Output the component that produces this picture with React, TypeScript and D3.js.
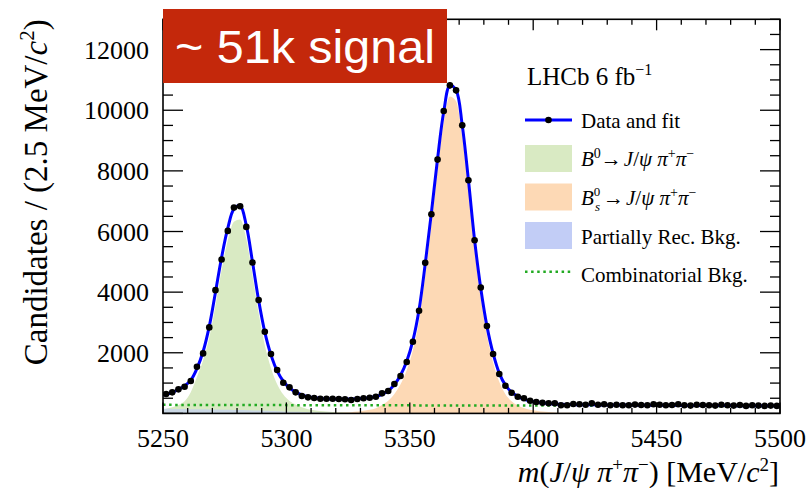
import React from "react";
import * as d3 from "d3";

// ---------- data ----------
const massRange = [5250, 5500];
const binWidth = 2.5;
const countMax = 13000;

// data points, one per 2.5 MeV bin (100 bins)
const dataCounts = [
  639, 695, 794, 880, 1068, 1539, 1980, 2837, 4066, 5078,
  6020, 6791, 6834, 6152, 4979, 3737, 2692, 1957, 1430, 1012,
  860, 695, 573, 530, 507, 484, 484, 484, 474, 465,
  442, 474, 498, 517, 550, 662, 738, 969, 1232, 1694,
  2362, 3384, 4966, 6570, 8372, 9974, 10821, 10656, 9503, 7691,
  5714, 4155, 2880, 1957, 1298, 913, 682, 550, 498, 418,
  375, 353, 333, 333, 267, 267, 310, 300, 287, 333,
  287, 300, 267, 287, 267, 267, 290, 277, 267, 300,
  287, 267, 277, 300, 267, 257, 287, 277, 267, 257,
  287, 267, 257, 277, 247, 267, 257, 247, 257, 247,
];

// total fit at bin centres, plus values at the two range edges
const fitCounts = [
  630, 690, 790, 905, 1095, 1480, 2040, 2870, 3990, 5150,
  6110, 6740, 6850, 6200, 5000, 3730, 2680, 1930, 1400, 1060,
  840, 700, 610, 550, 515, 495, 480, 472, 468, 468,
  472, 482, 498, 520, 560, 630, 745, 950, 1260, 1720,
  2400, 3420, 4930, 6620, 8400, 9950, 10820, 10660, 9500, 7700,
  5720, 4130, 2880, 1980, 1330, 930, 700, 560, 470, 410,
  370, 345, 325, 312, 302, 296, 291, 288, 285, 283,
  281, 279, 277, 276, 275, 274, 272, 271, 270, 269,
  268, 267, 266, 265, 264, 263, 262, 261, 260, 259,
  258, 257, 256, 255, 254, 253, 252, 251, 250, 249,
];
const fitEdges = [600, 248];

// B0 -> J/psi pi pi component
const b0Counts = [
  150, 200, 280, 400, 700, 1200, 1750, 2500, 3560, 4740,
  5700, 6320, 6400, 5760, 4560, 3300, 2250, 1500, 960, 620,
  410, 290, 200, 140, 105, 80, 60, 45, 35, 28,
  22, 17, 13, 10, 7, 5, 3, 2, 0, 0,
  0, 0, 0, 0, 0, 0, 0, 0, 0, 0,
  0, 0, 0, 0, 0, 0, 0, 0, 0, 0,
  0, 0, 0, 0, 0, 0, 0, 0, 0, 0,
  0, 0, 0, 0, 0, 0, 0, 0, 0, 0,
  0, 0, 0, 0, 0, 0, 0, 0, 0, 0,
  0, 0, 0, 0, 0, 0, 0, 0, 0, 0,
];
const b0Edges = [120, 0];

// Bs -> J/psi pi pi component
const bsCounts = [
  0, 0, 0, 0, 0, 0, 0, 0, 0, 0,
  0, 0, 0, 0, 0, 0, 0, 0, 0, 0,
  0, 0, 2, 4, 6, 9, 12, 16, 20, 28,
  40, 60, 85, 120, 170, 280, 420, 640, 960, 1420,
  2080, 3060, 4540, 6220, 8020, 9600, 10450, 10300, 9150, 7360,
  5400, 3820, 2580, 1680, 1040, 630, 400, 260, 175, 120,
  85, 60, 45, 33, 25, 18, 13, 9, 6, 4,
  2, 0, 0, 0, 0, 0, 0, 0, 0, 0,
  0, 0, 0, 0, 0, 0, 0, 0, 0, 0,
  0, 0, 0, 0, 0, 0, 0, 0, 0, 0,
];
const bsEdges = [0, 0];

// partially reconstructed background
const partialCounts = [
  150, 148, 146, 144, 141, 138, 135, 131, 127, 123,
  119, 114, 109, 104, 98, 92, 86, 79, 72, 65,
  58, 51, 44, 37, 31, 25, 20, 15, 11, 8,
  5, 3, 2, 1, 0, 0, 0, 0, 0, 0,
  0, 0, 0, 0, 0, 0, 0, 0, 0, 0,
  0, 0, 0, 0, 0, 0, 0, 0, 0, 0,
  0, 0, 0, 0, 0, 0, 0, 0, 0, 0,
  0, 0, 0, 0, 0, 0, 0, 0, 0, 0,
  0, 0, 0, 0, 0, 0, 0, 0, 0, 0,
  0, 0, 0, 0, 0, 0, 0, 0, 0, 0,
];
const partialEdges = [151, 0];

// combinatorial background
const combMass = [5250, 5300, 5350, 5400, 5450, 5500];
const combCounts = [282, 273, 265, 258, 251, 245];

const xMajorTicks = [5250, 5300, 5350, 5400, 5450, 5500];
const yMajorTicks = [2000, 4000, 6000, 8000, 10000, 12000];
const xMinorStep = 10;
const yMinorStep = 500;

// ---------- layout ----------
const W = 809;
const H = 488;
const PL = 163;
const PR = 780;
const PT = 19.3;
const PB = 413.4;

const SERIF = "'Liberation Serif', 'Times New Roman', Times, serif";
const SANS = "'Liberation Sans', Arial, Helvetica, sans-serif";

const C_GREEN = "#d9eac3";
const C_ORANGE = "#fdd9b5";
const C_BLUE = "#c2cdf6";
const C_COMB = "#22aa22";
const C_FIT = "#0000ff";

export default function App() {
  const x = d3.scaleLinear().domain(massRange).range([PL, PR]);
  const y = d3.scaleLinear().domain([0, countMax]).range([PB, PT]);
  const centers = dataCounts.map((_, i) => massRange[0] + binWidth * (i + 0.5));

  const withEdges = (vals: number[], edges: number[]): [number, number][] => [
    [massRange[0], edges[0]],
    ...vals.map((v, i) => [centers[i], v] as [number, number]),
    [massRange[1], edges[1]],
  ];

  const fitLine = d3
    .line<[number, number]>()
    .x((d) => x(d[0]))
    .y((d) => y(d[1]))
    .curve(d3.curveCatmullRom.alpha(0.5));

  const compArea = d3
    .area<[number, number]>()
    .x((d) => x(d[0]))
    .y0(y(0))
    .y1((d) => y(d[1]))
    .curve(d3.curveMonotoneX);

  const combLine = d3
    .line<number>()
    .x((_, i) => x(combMass[i]))
    .y((d) => y(d))
    .curve(d3.curveMonotoneX);

  const xMinor = d3.range(massRange[0], massRange[1] + 0.001, xMinorStep);
  const yMinor = d3.range(0, countMax + 0.001, yMinorStep);

  return (
    <svg
      width={W}
      height={H}
      style={{ position: "absolute", left: 0, top: 0, background: "#fff" }}
    >
      <defs>
        <clipPath id="plotclip">
          <rect x={PL} y={PT} width={PR - PL} height={PB - PT} />
        </clipPath>
      </defs>

      <g clipPath="url(#plotclip)">
        <path d={compArea(withEdges(b0Counts, b0Edges)) || ""} fill={C_GREEN} />
        <path d={compArea(withEdges(bsCounts, bsEdges)) || ""} fill={C_ORANGE} />
        <path
          d={compArea(withEdges(partialCounts, partialEdges)) || ""}
          fill={C_BLUE}
          fillOpacity={0.65}
        />
        <path
          d={combLine(combCounts) || ""}
          fill="none"
          stroke={C_COMB}
          strokeWidth={2.5}
          strokeDasharray="2.5 3.6"
        />
        <path
          d={fitLine(withEdges(fitCounts, fitEdges)) || ""}
          fill="none"
          stroke={C_FIT}
          strokeWidth={3}
        />
        {dataCounts.map((v, i) => {
          const e = Math.sqrt(v);
          return (
            <g key={i}>
              <line
                x1={x(centers[i])}
                x2={x(centers[i])}
                y1={y(v - e)}
                y2={y(v + e)}
                stroke="#000"
                strokeWidth={1.5}
              />
              <circle cx={x(centers[i])} cy={y(v)} r={3.3} fill="#000" />
            </g>
          );
        })}
      </g>

      {/* frame */}
      <rect
        x={PL}
        y={PT}
        width={PR - PL}
        height={PB - PT}
        fill="none"
        stroke="#000"
        strokeWidth={1.6}
      />

      {/* x ticks (bottom and top) */}
      {xMinor.map((m) => {
        const major = xMajorTicks.includes(Math.round(m));
        const len = major ? 11 : 5.5;
        return (
          <g key={"xt" + m}>
            <line x1={x(m)} x2={x(m)} y1={PB} y2={PB - len} stroke="#000" strokeWidth={1.3} />
            <line x1={x(m)} x2={x(m)} y1={PT} y2={PT + len} stroke="#000" strokeWidth={1.3} />
          </g>
        );
      })}
      {/* y ticks (left and right) */}
      {yMinor.map((v) => {
        const major = yMajorTicks.includes(Math.round(v)) || v === 0;
        const len = major ? 20 : 10;
        return (
          <g key={"yt" + v}>
            <line x1={PL} x2={PL + len} y1={y(v)} y2={y(v)} stroke="#000" strokeWidth={1.3} />
            <line x1={PR} x2={PR - len} y1={y(v)} y2={y(v)} stroke="#000" strokeWidth={1.3} />
          </g>
        );
      })}

      {/* tick labels */}
      {xMajorTicks.map((m) => (
        <text
          key={"xl" + m}
          x={x(m)}
          y={447}
          textAnchor="middle"
          fontFamily={SERIF}
          fontSize={26}
          fill="#000"
        >
          {m}
        </text>
      ))}
      {yMajorTicks.map((v) => (
        <text
          key={"yl" + v}
          x={149}
          y={y(v) + 9}
          textAnchor="end"
          fontFamily={SERIF}
          fontSize={26}
          fill="#000"
        >
          {v}
        </text>
      ))}

      {/* axis titles */}
      <text x={779} y={482} textAnchor="end" fontFamily={SERIF} fontSize={30} fill="#000">
        <tspan fontStyle="italic">m</tspan>
        <tspan>(</tspan>
        <tspan fontStyle="italic">J</tspan>
        <tspan>/</tspan>
        <tspan fontStyle="italic">ψ π</tspan>
        <tspan fontSize={19} dy={-11}>+</tspan>
        <tspan fontStyle="italic" dy={11}>π</tspan>
        <tspan fontSize={19} dy={-11}>−</tspan>
        <tspan dy={11}>) [MeV/</tspan>
        <tspan fontStyle="italic">c</tspan>
        <tspan fontSize={19} dy={-11}>2</tspan>
        <tspan dy={11}>]</tspan>
      </text>
      <text
        transform={`translate(47, ${PT}) rotate(-90)`}
        textAnchor="end"
        fontFamily={SERIF}
        fontSize={33}
        fill="#000"
      >
        <tspan>Candidates / (2.5 MeV/</tspan>
        <tspan fontStyle="italic">c</tspan>
        <tspan fontSize={21} dy={-13}>2</tspan>
        <tspan dy={13}>)</tspan>
      </text>

      {/* legend */}
      <g fontFamily={SERIF} fill="#000">
        <text x={527} y={85} fontSize={25}>
          <tspan>LHCb 6 fb</tspan>
          <tspan fontSize={16} dy={-10}>−1</tspan>
        </text>

        <line x1={525} x2={572} y1={120} y2={120} stroke={C_FIT} strokeWidth={3} />
        <circle cx={548.5} cy={120} r={3.3} fill="#000" />
        <text x={581} y={128} fontSize={21}>Data and fit</text>

        <rect x={525} y={145} width={47} height={27} fill={C_GREEN} />
        <text x={581} y={166} fontSize={21}>
          <tspan fontStyle="italic">B</tspan>
          <tspan fontSize={14} dy={-8}>0</tspan>
          <tspan dy={8}>→</tspan>
          <tspan fontStyle="italic" dx={2}>J</tspan>
          <tspan>/</tspan>
          <tspan fontStyle="italic">ψ π</tspan>
          <tspan fontSize={14} dy={-8}>+</tspan>
          <tspan fontStyle="italic" dy={8}>π</tspan>
          <tspan fontSize={14} dy={-8}>−</tspan>
        </text>

        <rect x={525} y={183.5} width={47} height={27} fill={C_ORANGE} />
        <text x={581} y={205} fontSize={21}>
          <tspan fontStyle="italic">B</tspan>
          <tspan fontSize={13} dy={-9}>0</tspan>
        </text>
        <text x={595} y={211} fontSize={13} fontStyle="italic">s</text>
        <text x={603} y={205} fontSize={21}>
          <tspan>→</tspan>
          <tspan fontStyle="italic" dx={2}>J</tspan>
          <tspan>/</tspan>
          <tspan fontStyle="italic">ψ π</tspan>
          <tspan fontSize={14} dy={-8}>+</tspan>
          <tspan fontStyle="italic" dy={8}>π</tspan>
          <tspan fontSize={14} dy={-8}>−</tspan>
        </text>

        <rect x={525} y={222} width={47} height={27} fill={C_BLUE} />
        <text x={581} y={243.5} fontSize={21}>Partially Rec. Bkg.</text>

        <line
          x1={525}
          x2={572}
          y1={271.7}
          y2={271.7}
          stroke={C_COMB}
          strokeWidth={2.5}
          strokeDasharray="2.5 3.6"
        />
        <text x={581} y={281.5} fontSize={21}>Combinatorial Bkg.</text>
      </g>

      {/* signal banner */}
      <rect x={163} y={9} width={284} height={74} fill="#c4280b" />
      <text
        x={175}
        y={63}
        fontFamily={SANS}
        fontSize={46}
        fill="#fff"
        textLength={260}
        lengthAdjust="spacingAndGlyphs"
      >
        ~ 51k signal
      </text>
    </svg>
  );
}
